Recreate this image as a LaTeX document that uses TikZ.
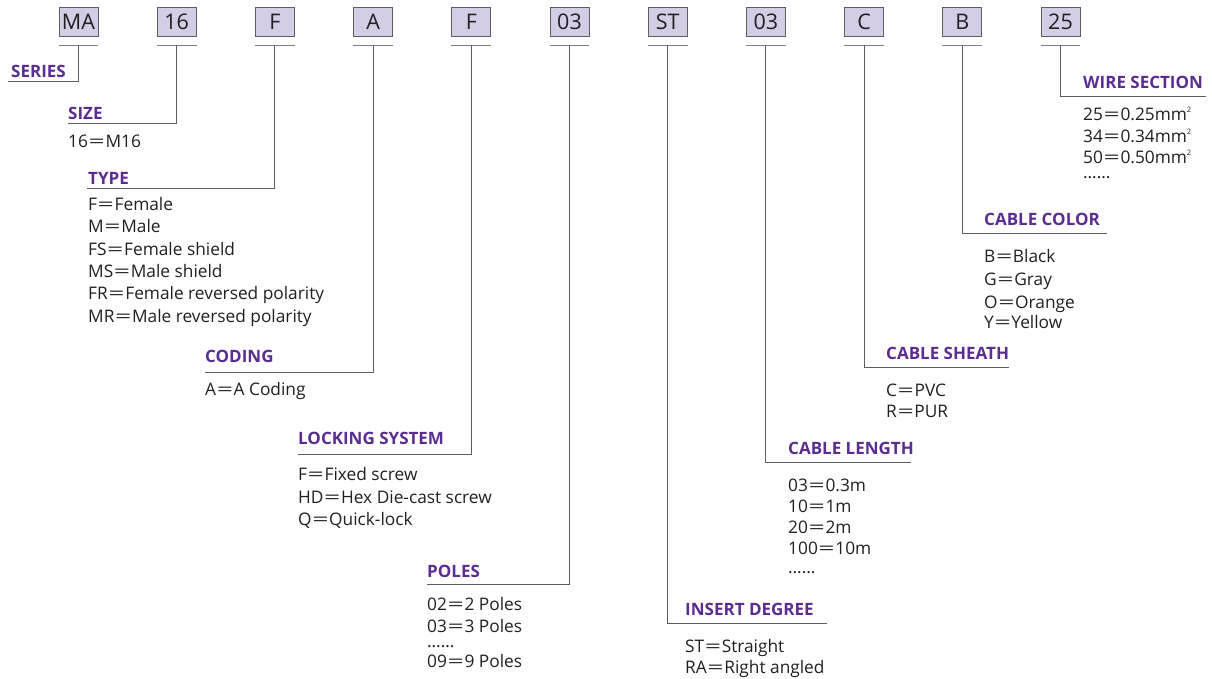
\documentclass[tikz,border=0pt]{standalone}
\usepackage{fontspec}
\usepackage{graphicx}
\setmainfont{Open Sans}
\definecolor{boxfill}{HTML}{D4CDE6}
\definecolor{ttlc}{HTML}{5C2D91}
\definecolor{lnc}{HTML}{5E5E5E}
\definecolor{txc}{HTML}{231F20}
\newcommand{\sqr}{\raisebox{7.5pt}{\fontsize{7.5}{7.5}\selectfont 2}}
\newcommand{\dotsline}{\smash{……}}
\newcommand{\eq}{\kern0.6pt\scalebox{1.65}[1]{=}\kern0.6pt}
\begin{document}
\begin{tikzpicture}[x=1pt,y=-1pt,
 code/.style={draw=lnc, fill=boxfill, line width=0.9pt, minimum width=39pt, minimum height=29pt, inner sep=0pt, font=\fontsize{21.5}{21.5}\selectfont, text=txc},
 ttl/.style={anchor=base west, inner sep=0pt, font=\bfseries\fontsize{17}{17}\selectfont, text=ttlc},
 itm/.style={anchor=base west, inner sep=0pt, font=\fontsize{17.3}{17.3}\selectfont, text=txc},
 leg/.style={draw=lnc, line width=1pt},
 ul/.style={draw=lnc!80, line width=1pt},
]
\useasboundingbox (0,0) rectangle (1212,678);
% code boxes
\node[code] (b1) at (78.5,21.5) {MA};
\node[code] (b2) at (176.7,21.5) {16};
\node[code] (b3) at (274.9,21.5) {F};
\node[code] (b4) at (373.1,21.5) {A};
\node[code] (b5) at (471.3,21.5) {F};
\node[code] (b6) at (569.5,21.5) {03};
\node[code] (b7) at (667.7,21.5) {ST};
\node[code] (b8) at (765.9,21.5) {03};
\node[code] (b9) at (864.1,21.5) {C};
\node[code] (b10) at (962.3,21.5) {B};
\node[code] (b11) at (1060.5,21.5) {25};
% underlines and leg starts
\foreach \i in {1,...,11}{
  \draw[ul] ([yshift=-9pt]b\i.south west) -- ([yshift=-9pt]b\i.south east);
  \coordinate (s\i) at ([yshift=-9pt]b\i.south);
}
% leg ends
\coordinate (e1) at (8,81);
\coordinate (e2) at (68,123);
\coordinate (e3) at (87,188);
\coordinate (e4) at (205,372);
\coordinate (e5) at (298,454);
\coordinate (e6) at (427,584);
\coordinate (e7) at (827,623);
\coordinate (e8) at (911,462);
\coordinate (e9) at (1009,367);
\coordinate (e10) at (1107,233);
\coordinate (e11) at (1206,96);
\foreach \i in {1,...,11}{ \draw[leg] (s\i) |- (e\i); }
% titles
\node[ttl] (t1) at (11,77) {SERIES};
\node[ttl] (t2) at (68,119) {SIZE};
\node[ttl] (t3) at (88,184) {TYPE};
\node[ttl] (t4) at (205,362) {CODING};
\node[ttl] (t5) at (298,444) {LOCKING SYSTEM};
\node[ttl] (t6) at (427,577) {POLES};
\node[ttl] (t7) at (685,615) {INSERT DEGREE};
\node[ttl] (t8) at (788,454) {CABLE LENGTH};
\node[ttl] (t9) at (886,359) {CABLE SHEATH};
\node[ttl] (t10) at (984,225) {CABLE COLOR};
\node[ttl] (t11) at (1083,88) {WIRE SECTION};
% items
\node[itm] (i2a) at (68,147) {16\eq M16};
\node[itm] (i3a) at (88,210) {F\eq Female};
\node[itm] (i3b) at (88,232.5) {M\eq Male};
\node[itm] (i3c) at (88,255) {FS\eq Female shield};
\node[itm] (i3d) at (88,277) {MS\eq Male shield};
\node[itm] (i3e) at (88,299.5) {FR\eq Female reversed polarity};
\node[itm] (i3f) at (88,322) {MR\eq Male reversed polarity};
\node[itm] (i4a) at (205,395) {A\eq A Coding};
\node[itm] (i5a) at (298,480) {F\eq Fixed screw};
\node[itm] (i5b) at (298,503) {HD\eq Hex Die-cast screw};
\node[itm] (i5c) at (298,525) {Q\eq Quick-lock};
\node[itm] (i6a) at (427,610) {02\eq 2 Poles};
\node[itm] (i6b) at (427,632) {03\eq 3 Poles};
\node[itm] (i6c) at (427,647) {\dotsline};
\node[itm] (i6d) at (427,667) {09\eq 9 Poles};
\node[itm] (i7a) at (685,652) {ST\eq Straight};
\node[itm] (i7b) at (685,673) {RA\eq Right angled};
\node[itm] (i8a) at (788,491) {03\eq 0.3m};
\node[itm] (i8b) at (788,512) {10\eq 1m};
\node[itm] (i8c) at (788,533) {20\eq 2m};
\node[itm] (i8d) at (788,554) {100\eq 10m};
\node[itm] (i8e) at (788,573) {\dotsline};
\node[itm] (i9a) at (886,396) {C\eq PVC};
\node[itm] (i9b) at (886,417) {R\eq PUR};
\node[itm] (i10a) at (984,262) {B\eq Black};
\node[itm] (i10b) at (984,285) {G\eq Gray};
\node[itm] (i10c) at (984,308) {O\eq Orange};
\node[itm] (i10d) at (984,328) {Y\eq Yellow};
\node[itm] (i11a) at (1083,120) {25\eq 0.25mm\sqr};
\node[itm] (i11b) at (1083,142) {34\eq 0.34mm\sqr};
\node[itm] (i11c) at (1083,163) {50\eq 0.50mm\sqr};
\node[itm] (i11d) at (1083,178) {\dotsline};
\end{tikzpicture}
\end{document}
